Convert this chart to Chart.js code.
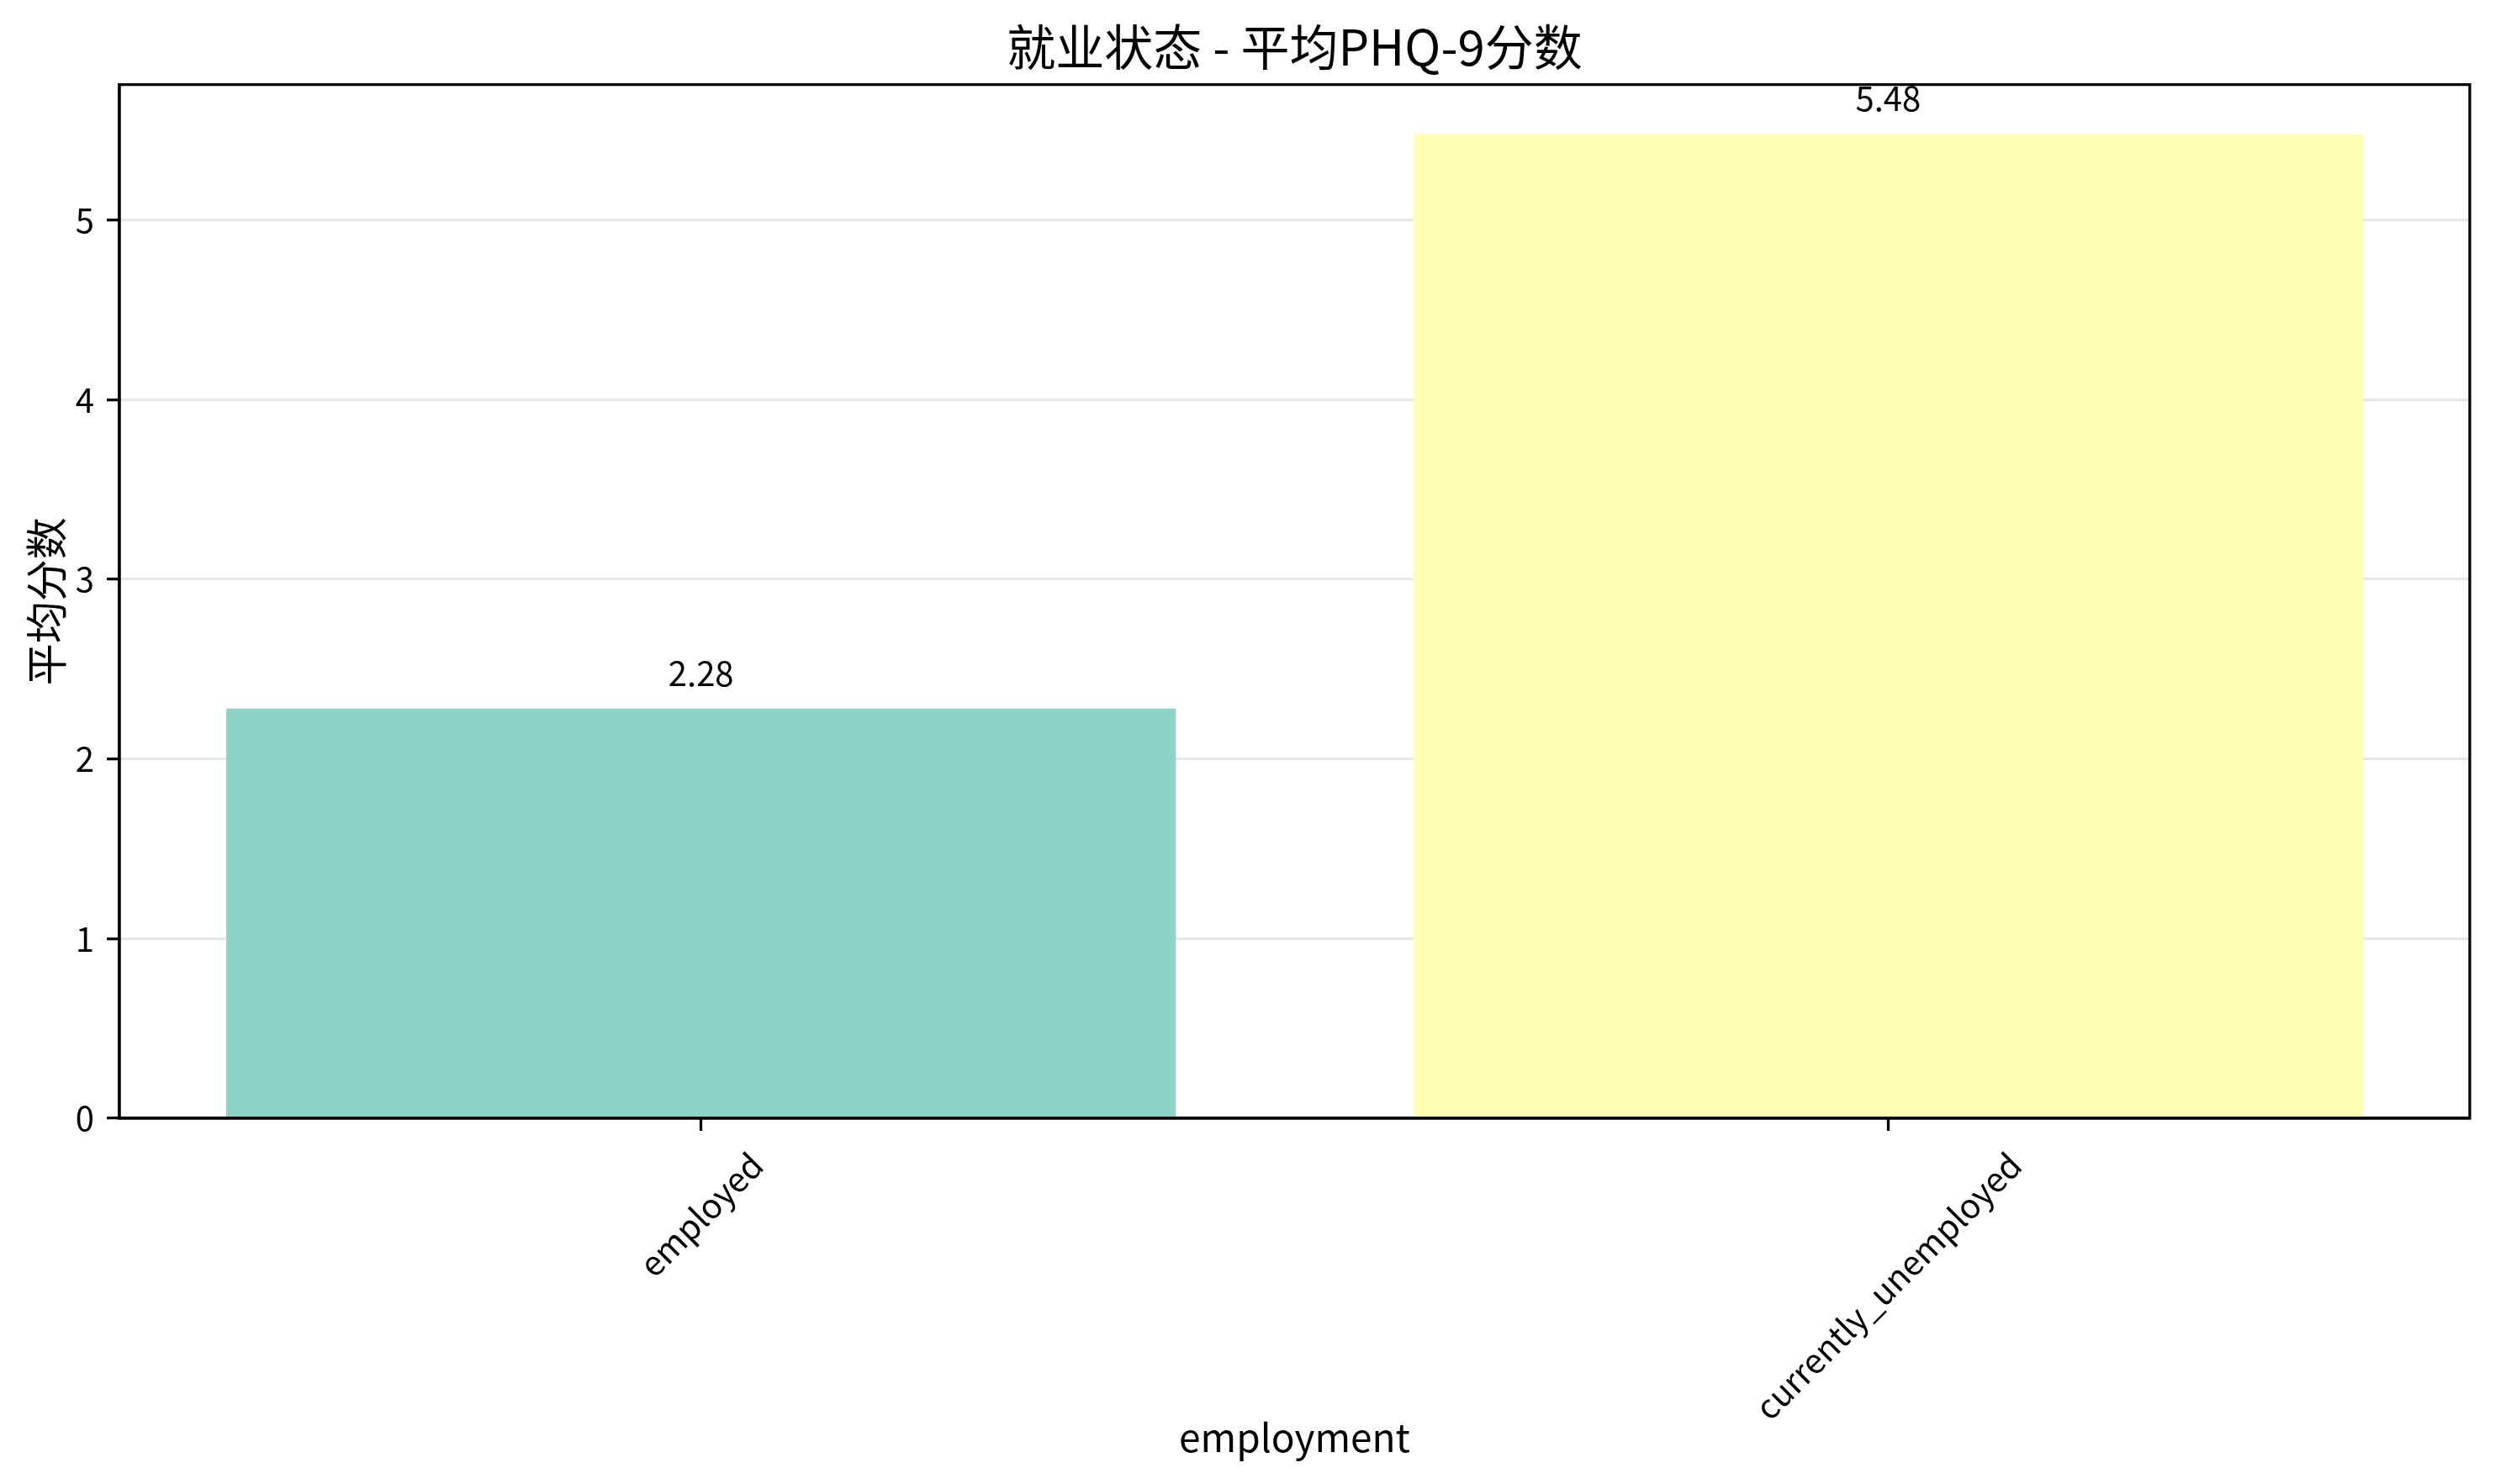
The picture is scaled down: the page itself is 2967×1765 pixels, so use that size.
<!DOCTYPE html>
<html>
<head>
<meta charset="utf-8">
<script src="https://cdn.jsdelivr.net/npm/chart.js@4/dist/chart.umd.min.js"></script>
<style>
  html, body { margin: 0; padding: 0; background: #fff; }
  .chart-box { width: 2967px; height: 1765px; }
</style>
</head>
<body>
<div class="chart-box"><canvas id="chart"></canvas></div>
<script>
const categories = ['employed', 'currently_unemployed'];
const meanScores = [2.28, 5.48];
const barColors = ['#8dd3c7', '#ffffb3'];
const yTickValues = [0, 1, 2, 3, 4, 5];

const FONT = '"Noto Sans CJK SC", "Noto Sans", sans-serif';
const tickSize = 40;

// x labels are turned 45 degrees and centred under their tick, like matplotlib
const xLabelPlugin = {
  id: 'xLabels',
  afterDraw(chart) {
    const xs = chart.scales.x;
    const ctx = chart.ctx;
    ctx.save();
    ctx.font = tickSize + 'px ' + FONT;
    ctx.fillStyle = '#000';
    ctx.textAlign = 'center';
    ctx.textBaseline = 'middle';
    categories.forEach((label, i) => {
      const w = ctx.measureText(label).width;
      const half = (w + tickSize * 1.1) * Math.SQRT1_2 / 2;
      const cx = xs.getPixelForValue(i);
      const cy = xs.top + 33 + half;
      ctx.save();
      ctx.translate(cx, cy);
      ctx.rotate(-Math.PI / 4);
      ctx.fillText(label, 0, 0);
      ctx.restore();
    });
    ctx.restore();
  }
};

// numbers above bars + the top/right frame
const valuePlugin = {
  id: 'values',
  afterDraw(chart) {
    const ctx = chart.ctx;
    const meta = chart.getDatasetMeta(0);
    ctx.save();
    ctx.font = tickSize + 'px ' + FONT;
    ctx.fillStyle = '#000';
    ctx.textAlign = 'center';
    ctx.textBaseline = 'alphabetic';
    meta.data.forEach((bar, i) => {
      ctx.fillText(meanScores[i].toFixed(2), bar.x, bar.y - 27);
    });
    const a = chart.chartArea;
    ctx.strokeStyle = '#000';
    ctx.lineWidth = 3.3;
    ctx.strokeRect(a.left, a.top, a.right - a.left, a.bottom - a.top);
    ctx.restore();
  }
};

new Chart(document.getElementById('chart'), {
  type: 'bar',
  data: {
    datasets: [{
      data: categories.map((c, i) => ({ x: i, y: meanScores[i] })),
      backgroundColor: barColors,
      borderWidth: 0,
      barPercentage: 0.8,
      categoryPercentage: 1.0
    }]
  },
  options: {
    responsive: true,
    maintainAspectRatio: false,
    devicePixelRatio: 1,
    animation: false,
    layout: { padding: { left: 0, right: 30, top: 0, bottom: 0 } },
    plugins: {
      legend: { display: false },
      tooltip: { enabled: false },
      title: {
        display: true,
        fullSize: false,
        text: '就业状态 - 平均PHQ-9分数',
        color: '#000',
        font: { family: FONT, size: 58, weight: 'normal', lineHeight: 1.2 },
        padding: { top: 21, bottom: 10 }
      }
    },
    scales: {
      x: {
        type: 'linear',
        min: -0.49,
        max: 1.49,
        offset: false,
        afterBuildTicks: (axis) => { axis.ticks = categories.map((c, i) => ({ value: i })); },
        afterFit: (axis) => { axis.height = 435; },
        ticks: { display: false },
        grid: { display: true, offset: false, drawOnChartArea: false, drawTicks: true, tickLength: 15, tickColor: '#000', tickWidth: 3.3 },
        border: { display: true, color: '#000', width: 3.3 },
        title: {
          display: true,
          text: 'employment',
          color: '#000',
          font: { family: FONT, size: 46, lineHeight: 1.2 },
          padding: { top: 0, bottom: 28 }
        }
      },
      y: {
        min: 0,
        max: 5.754,
        z: 1,
        afterBuildTicks: (axis) => { axis.ticks = yTickValues.map(v => ({ value: v })); },
        afterFit: (axis) => { axis.width = 142; },
        ticks: {
          color: '#000',
          padding: 15,
          font: { family: FONT, size: tickSize }
        },
        grid: { color: 'rgba(176,176,176,0.3)', lineWidth: 3.3, tickLength: 15, tickColor: '#000', tickWidth: 3.3 },
        border: { display: true, color: '#000', width: 3.3 },
        title: {
          display: true,
          text: '平均分数',
          color: '#000',
          font: { family: FONT, size: 50, lineHeight: 1.2 },
          padding: { top: 25, bottom: 0 }
        }
      }
    }
  },
  plugins: [xLabelPlugin, valuePlugin]
});
</script>
</body>
</html>
